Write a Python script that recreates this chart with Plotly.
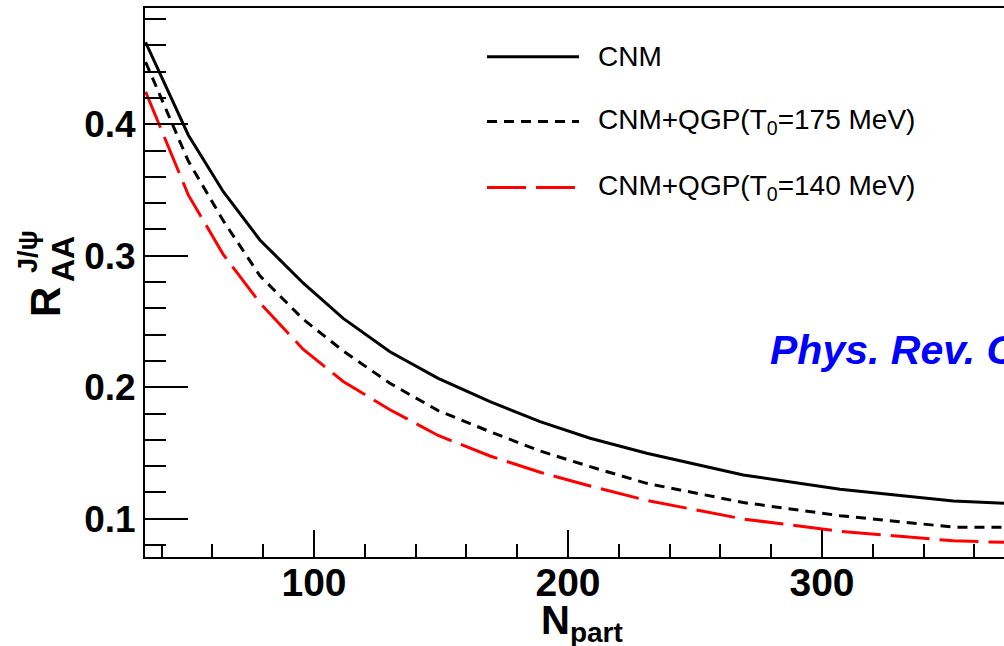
import plotly.graph_objects as go

# ---- data ----
npart = [33.7, 50.5, 64.3, 78.7, 95.8, 111.5, 129.9, 148.9, 169.3, 189.0,
         208.7, 231.0, 269.0, 307.1, 351.7, 380.0]
raa_cnm = [0.4624, 0.3919, 0.3487, 0.3120, 0.2791, 0.2524, 0.2270, 0.2068,
           0.1890, 0.1738, 0.1612, 0.1498, 0.1333, 0.1224, 0.1135, 0.1110]
raa_t175 = [0.4474, 0.3721, 0.3266, 0.2848, 0.2516, 0.2276, 0.2030, 0.1822,
            0.1662, 0.1515, 0.1396, 0.1269, 0.1123, 0.1023, 0.0936, 0.0935]
raa_t140 = [0.4248, 0.3463, 0.3009, 0.2642, 0.2287, 0.2044, 0.1829, 0.1633,
            0.1477, 0.1353, 0.1249, 0.1139, 0.0998, 0.0904, 0.0832, 0.0815]

series_names = ["CNM", "CNM+QGP(T<sub>0</sub>=175 MeV)", "CNM+QGP(T<sub>0</sub>=140 MeV)"]

W, H = 1004, 646
L, R, T, B = 145, 0, 8, 89
PW, PH = W - L - R, H - T - B

def px(x):
    return (x - L) / PW

def py(y):
    return (H - B - y) / PH

FONT = "Liberation Sans, Arial, Helvetica, sans-serif"

styles = [
    dict(color="black", width=3, dash="solid"),
    dict(color="black", width=3, dash="10px,7px"),
    dict(color="#ff0000", width=3, dash="39px,10px"),
]

fig = go.Figure()
for ys, name, st in zip([raa_cnm, raa_t175, raa_t140], series_names, styles):
    fig.add_trace(go.Scatter(x=npart, y=ys, mode="lines", name=name,
                             line=st, showlegend=False, hoverinfo="skip"))

# custom legend (ROOT-style, long line samples)
legend_rows = [56.7, 121.5, 187.5]
shapes = []
annotations = []
for yy, name, st in zip(legend_rows, series_names, styles):
    shapes.append(dict(type="line", xref="paper", yref="paper",
                       x0=px(487), x1=px(579), y0=py(yy), y1=py(yy),
                       line=st))
    annotations.append(dict(xref="paper", yref="paper", x=px(596), y=py(yy),
                            xanchor="left", yanchor="middle", showarrow=False,
                            text=name, font=dict(family=FONT, size=28, color="black")))

# journal label
annotations.append(dict(xref="paper", yref="paper", x=px(768), y=py(350),
                        xanchor="left", yanchor="middle", showarrow=False,
                        text="Phys. Rev. C",
                        font=dict(family=FONT, size=41, color="#0000ff",
                                  weight="bold", style="italic")))

# axis titles
annotations.append(dict(xref="paper", yref="paper", x=px(539), y=py(596),
                        xanchor="left", yanchor="top", showarrow=False,
                        text="N<sub>part</sub>",
                        font=dict(family=FONT, size=40, color="black", weight="bold")))
annotations.append(dict(xref="paper", yref="paper", x=px(46), y=py(302),
                        xanchor="center", yanchor="middle", showarrow=False,
                        textangle=-90, text="R",
                        font=dict(family=FONT, size=42, color="black", weight="bold")))
annotations.append(dict(xref="paper", yref="paper", x=px(63), y=py(259),
                        xanchor="center", yanchor="middle", showarrow=False,
                        textangle=-90, text="AA",
                        font=dict(family=FONT, size=32, color="black", weight="bold")))
annotations.append(dict(xref="paper", yref="paper", x=px(28), y=py(251),
                        xanchor="center", yanchor="middle", showarrow=False,
                        textangle=-90, text="J/ψ",
                        font=dict(family=FONT, size=27, color="black", weight="bold")))

x_lo = 100 - (314 - L) / 2.54
x_hi = 100 + (W - R - 314) / 2.54
y_lo = 0.4 - (H - B - 124.3) / 1314.7
y_hi = 0.4 + (124.3 - T) / 1314.7

fig.update_layout(
    width=W, height=H,
    margin=dict(l=L, r=R, t=T, b=B, pad=0),
    paper_bgcolor="white", plot_bgcolor="white",
    shapes=shapes, annotations=annotations,
    showlegend=False,
    xaxis=dict(range=[x_lo, x_hi], showgrid=False, zeroline=False,
               showline=True, linecolor="black", linewidth=2, mirror=True,
               ticks="inside", ticklen=27, tickwidth=1.5, tickcolor="black",
               tick0=0, dtick=100, ticklabelstandoff=-10,
               tickfont=dict(family=FONT, size=39, color="black", weight="bold"),
               minor=dict(ticks="inside", ticklen=13, tickwidth=1.5,
                          tickcolor="black", tick0=0, dtick=20, showgrid=False)),
    yaxis=dict(range=[y_lo, y_hi], showgrid=False, zeroline=False,
               showline=True, linecolor="black", linewidth=2, mirror=False,
               ticks="inside", ticklen=43, tickwidth=1.5, tickcolor="black",
               tick0=0, dtick=0.1, tickformat=".1f",
               tickfont=dict(family=FONT, size=37, color="black", weight="bold"),
               minor=dict(ticks="inside", ticklen=21, tickwidth=1.5,
                          tickcolor="black", tick0=0, dtick=0.02, showgrid=False)),
)

fig.write_html("out.html")
